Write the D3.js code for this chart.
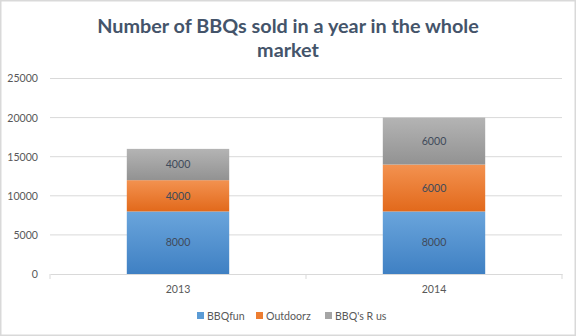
<!DOCTYPE html>
<html><head><meta charset="utf-8">
<script src="https://cdn.jsdelivr.net/npm/d3@7"></script>
<style>body{margin:0;background:#fff}svg{display:block}</style>
</head><body>
<svg id="c" width="576" height="336"></svg>
<script>
const categories = ["2013", "2014"];
const seriesNames = ["BBQfun", "Outdoorz", "BBQ's R us"];
const bbqfun = [8000, 8000];
const outdoorz = [4000, 6000];
const bbqsRus = [4000, 6000];
const yTicks = [0, 5000, 10000, 15000, 20000, 25000];
const titleLines = ["Number of BBQs sold in a year in the whole", "market"];

const colors = [
  {top:"#6aa5dc", bottom:"#3f80c3", legend:"#5b9bd5"},
  {top:"#f39250", bottom:"#e2691b", legend:"#ed7d31"},
  {top:"#b4b4b4", bottom:"#929292", legend:"#a5a5a5"}
];
const font = "Lato, 'Open Sans', sans-serif";
const fs = 10.6;

const svg = d3.select("#c");
const W = 576, H = 336;
svg.append("rect").attr("x",0.75).attr("y",0.75).attr("width",W-1.5).attr("height",H-1.5)
  .attr("fill","#fff").attr("stroke","#d9d9d9").attr("stroke-width",1.5);

const defs = svg.append("defs");
colors.forEach((c,i)=>{
  const g = defs.append("linearGradient").attr("id","g"+i).attr("x1",0).attr("y1",0).attr("x2",0).attr("y2",1);
  g.append("stop").attr("offset","0%").attr("stop-color",c.top);
  g.append("stop").attr("offset","100%").attr("stop-color",c.bottom);
});

// title
const title = svg.append("text").attr("text-anchor","middle").attr("fill","#44546a")
  .attr("font-family",font).attr("font-weight","bold").attr("font-size",19.8);
titleLines.forEach((t,i)=>title.append("tspan").attr("x",288).attr("y",33+i*24).text(t));

const x = d3.scaleBand().domain(categories).range([50,562]).paddingInner(0.6).paddingOuter(0.3);
const y = d3.scaleLinear().domain([0,25000]).range([274,78.5]);

// gridlines
svg.append("g").selectAll("line").data(yTicks.filter(d=>d>0)).join("line")
  .attr("x1",50).attr("x2",562).attr("y1",d=>y(d)).attr("y2",d=>y(d))
  .attr("stroke","#d9d9d9").attr("stroke-width",1);

// y axis labels
const ya = svg.append("g").attr("transform","translate(38,0)")
  .call(d3.axisLeft(y).tickValues(yTicks).tickSize(0).tickPadding(0).tickFormat(d3.format("d")));
ya.select(".domain").remove();
ya.selectAll("text").attr("font-family",font).attr("font-size",fs).attr("fill","#595959");

// stacked bars
const table = categories.map((c,i)=>({cat:c, "BBQfun":bbqfun[i], "Outdoorz":outdoorz[i], "BBQ's R us":bbqsRus[i]}));
const stack = d3.stack().keys(seriesNames)(table);
const layers = svg.append("g").selectAll("g").data(stack).join("g").attr("fill",(d,i)=>`url(#g${i})`);
layers.selectAll("rect").data(d=>d).join("rect")
  .attr("x",d=>x(d.data.cat)).attr("width",x.bandwidth())
  .attr("y",d=>y(d[1])).attr("height",d=>y(d[0])-y(d[1]));
layers.selectAll("text").data(d=>d).join("text")
  .attr("x",d=>x(d.data.cat)+x.bandwidth()/2).attr("y",d=>(y(d[0])+y(d[1]))/2)
  .attr("dy","0.35em").attr("text-anchor","middle").attr("fill","#404a5a")
  .attr("font-family",font).attr("font-size",fs).text(d=>d[1]-d[0]);

// x axis
const xa = svg.append("g").attr("transform","translate(0,274)")
  .call(d3.axisBottom(x).tickSize(0).tickPadding(11));
xa.select(".domain").attr("stroke","#d9d9d9");
xa.selectAll("text").attr("font-family",font).attr("font-size",fs).attr("fill","#595959");
svg.append("g").selectAll("line").data([50,306,562]).join("line")
  .attr("x1",d=>d).attr("x2",d=>d).attr("y1",274).attr("y2",279).attr("stroke","#d9d9d9");

// legend
const lg = svg.append("g");
const legendX = [197, 256, 325];
seriesNames.forEach((n,i)=>{
  lg.append("rect").attr("x",legendX[i]).attr("y",312).attr("width",7).attr("height",7).attr("fill",colors[i].legend);
  lg.append("text").attr("x",legendX[i]+10).attr("y",316).attr("dy","0.35em")
    .attr("font-family",font).attr("font-size",fs).attr("fill","#595959").text(n);
});
</script>
</body></html>
